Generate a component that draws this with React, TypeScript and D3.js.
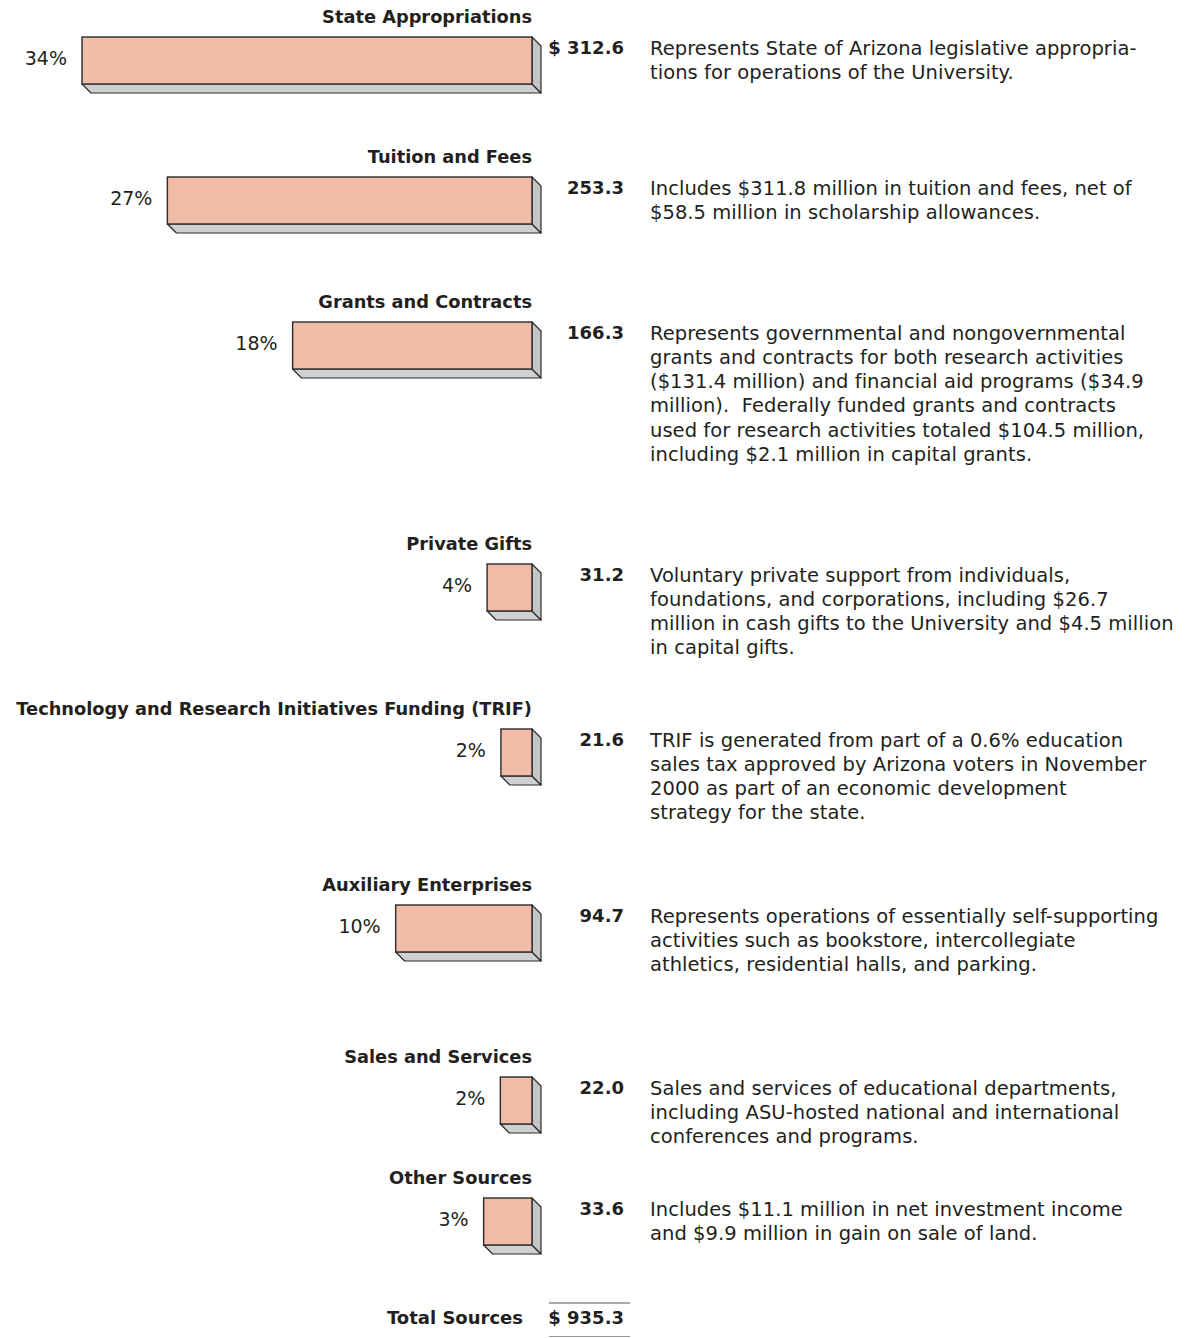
import { useEffect, useRef } from "react";
import * as d3 from "d3";

const CATEGORIES = [
  "State Appropriations",
  "Tuition and Fees",
  "Grants and Contracts",
  "Private Gifts",
  "Technology and Research Initiatives Funding (TRIF)",
  "Auxiliary Enterprises",
  "Sales and Services",
  "Other Sources",
];

// $ millions
const AMOUNTS = [312.6, 253.3, 166.3, 31.2, 21.6, 94.7, 22.0, 33.6];
const PERCENTS = ["34%", "27%", "18%", "4%", "2%", "10%", "2%", "3%"];
const TOTAL = 935.3;

const NOTES = [
  [
    "Represents State of Arizona legislative appropria-",
    "tions for operations of the University.",
  ],
  [
    "Includes $311.8 million in tuition and fees, net of",
    "$58.5 million in scholarship allowances.",
  ],
  [
    "Represents governmental and nongovernmental",
    "grants and contracts for both research activities",
    "($131.4 million) and financial aid programs ($34.9",
    "million).  Federally funded grants and contracts",
    "used for research activities totaled $104.5 million,",
    "including $2.1 million in capital grants.",
  ],
  [
    "Voluntary private support from individuals,",
    "foundations, and corporations, including $26.7",
    "million in cash gifts to the University and $4.5 million",
    "in capital gifts.",
  ],
  [
    "TRIF is generated from part of a 0.6% education",
    "sales tax approved by Arizona voters in November",
    "2000 as part of an economic development",
    "strategy for the state.",
  ],
  [
    "Represents operations of essentially self-supporting",
    "activities such as bookstore, intercollegiate",
    "athletics, residential halls, and parking.",
  ],
  [
    "Sales and services of educational departments,",
    "including ASU-hosted national and international",
    "conferences and programs.",
  ],
  [
    "Includes $11.1 million in net investment income",
    "and $9.9 million in gain on sale of land.",
  ],
];

// layout: top of each bar face (px)
const ROW_TOP = [37, 177, 322, 564, 729, 905, 1077, 1198];

const W = 1185;
const H = 1338;
const BAR_RIGHT = 532;
const BAR_H = 47;
const DEPTH = 9;
const VALUE_RIGHT = 624;
const NOTE_X = 650;
const INK = "#231f20";
const SANS = "'DejaVu Sans', sans-serif";

export default function App() {
  const svgRef = useRef<SVGSVGElement>(null);

  useEffect(() => {
    document.body.style.margin = "0";
    const svg = svgRef.current;
    if (!svg) return;
    const s = d3.select(svg);
    s.selectAll("*").remove();

    const x = d3.scaleLinear().domain([0, AMOUNTS[0]]).range([0, 450]);

    const rows = s
      .selectAll("g.row")
      .data(CATEGORIES)
      .join("g")
      .attr("class", "row")
      .attr("transform", (_d, i) => `translate(0,${ROW_TOP[i]})`);

    // category label
    rows
      .append("text")
      .attr("x", BAR_RIGHT)
      .attr("y", -20)
      .attr("dy", "0.35em")
      .attr("text-anchor", "end")
      .attr("font-family", SANS)
      .attr("font-weight", "bold")
      .attr("font-size", 17.8)
      .attr("fill", INK)
      .text((d) => d);

    // 3D bar: bottom, right side, then face
    rows.each(function (_d, i) {
      const g = d3.select(this);
      const x0 = BAR_RIGHT - x(AMOUNTS[i]);
      const x1 = BAR_RIGHT;
      const y1 = BAR_H;
      g.append("polygon")
        .attr(
          "points",
          [
            [x0, y1],
            [x1, y1],
            [x1 + DEPTH, y1 + DEPTH],
            [x0 + DEPTH, y1 + DEPTH],
          ].join(" "),
        )
        .attr("fill", "#cfd0d2")
        .attr("stroke", "#2b2b2b")
        .attr("stroke-width", 1.2)
        .attr("stroke-linejoin", "round");
      g.append("polygon")
        .attr(
          "points",
          [
            [x1, 0],
            [x1 + DEPTH, DEPTH],
            [x1 + DEPTH, y1 + DEPTH],
            [x1, y1],
          ].join(" "),
        )
        .attr("fill", "#c4c5c8")
        .attr("stroke", "#2b2b2b")
        .attr("stroke-width", 1.2)
        .attr("stroke-linejoin", "round");
      g.append("rect")
        .attr("x", x0)
        .attr("y", 0)
        .attr("width", x1 - x0)
        .attr("height", BAR_H)
        .attr("fill", "#f0bba7")
        .attr("stroke", "#2b2b2b")
        .attr("stroke-width", 1.4);

      g.append("text")
        .attr("x", x0 - 15)
        .attr("y", BAR_H / 2 - 2)
        .attr("dy", "0.35em")
        .attr("text-anchor", "end")
        .attr("font-family", SANS)
        .attr("font-size", 19)
        .attr("fill", INK)
        .text(PERCENTS[i]);
    });

    // amount
    rows
      .append("text")
      .attr("x", VALUE_RIGHT)
      .attr("y", 11)
      .attr("dy", "0.35em")
      .attr("text-anchor", "end")
      .attr("font-family", SANS)
      .attr("font-weight", "bold")
      .attr("font-size", 18)
      .attr("fill", INK)
      .text((_d, i) => (i === 0 ? "$ " : "") + d3.format(".1f")(AMOUNTS[i]));

    // notes
    rows
      .append("text")
      .attr("font-family", SANS)
      .attr("font-size", 19.5)
      .attr("letter-spacing", 0.05)
      .attr("fill", INK)
      .selectAll("tspan")
      .data((_d, i) => NOTES[i])
      .join("tspan")
      .attr("x", NOTE_X)
      .attr("y", (_l, j) => 11 + j * 24.2)
      .attr("dy", "0.35em")
      .attr("xml:space", "preserve")
      .style("white-space", "pre")
      .text((l) => l);

    // total
    const t = s.append("g").attr("transform", "translate(0,1318)");
    t.append("text")
      .attr("x", 523)
      .attr("dy", "0.35em")
      .attr("text-anchor", "end")
      .attr("font-family", SANS)
      .attr("font-weight", "bold")
      .attr("font-size", 18)
      .attr("fill", INK)
      .text("Total Sources");
    t.append("text")
      .attr("x", VALUE_RIGHT)
      .attr("dy", "0.35em")
      .attr("text-anchor", "end")
      .attr("font-family", SANS)
      .attr("font-weight", "bold")
      .attr("font-size", 18)
      .attr("fill", INK)
      .text("$ " + d3.format(".1f")(TOTAL));
    t.append("line")
      .attr("x1", 549)
      .attr("x2", 630)
      .attr("y1", -15)
      .attr("y2", -15)
      .attr("stroke", "#555")
      .attr("stroke-width", 1);
    t.append("line")
      .attr("x1", 549)
      .attr("x2", 630)
      .attr("y1", 18.5)
      .attr("y2", 18.5)
      .attr("stroke", "#999")
      .attr("stroke-width", 1);
  }, []);

  return <svg ref={svgRef} width={W} height={H} style={{ display: "block", background: "#fff" }} />;
}
